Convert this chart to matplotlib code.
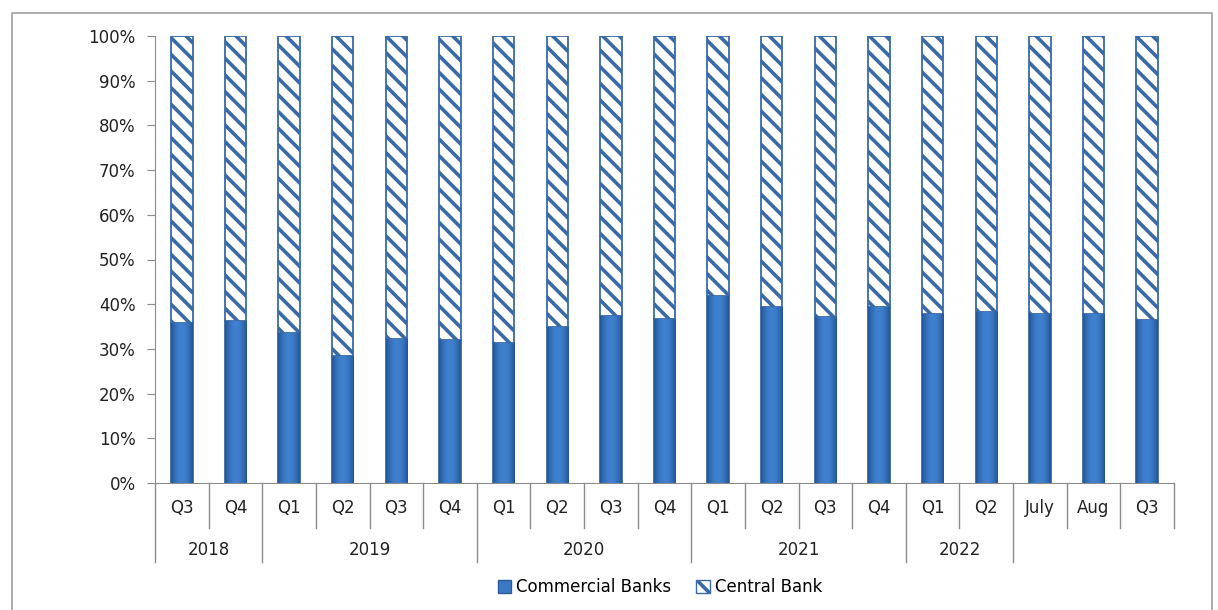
import matplotlib.pyplot as plt
import numpy as np
from matplotlib.patches import Patch
from matplotlib.lines import Line2D
from matplotlib.colors import LinearSegmentedColormap
import matplotlib.transforms as mtransforms

# data (shares in %)
periods = ["Q3", "Q4", "Q1", "Q2", "Q3", "Q4", "Q1", "Q2", "Q3", "Q4",
           "Q1", "Q2", "Q3", "Q4", "Q1", "Q2", "July", "Aug", "Q3"]
years = ["2018", "2019", "2020", "2021", "2022"]
year_span = [(0, 1), (2, 5), (6, 9), (10, 13), (14, 15)]
commercial = [35.7, 36.2, 33.6, 28.4, 32.2, 31.9, 31.4, 34.8, 37.4, 36.6,
              41.8, 39.4, 37.1, 39.3, 37.7, 38.3, 37.9, 37.7, 36.5]
central = [100 - v for v in commercial]

dark_blue = "#3B78C4"
edge_blue = "#2C5C98"
hatch_blue = "#4A7EBB"

plt.rcParams['hatch.linewidth'] = 2.6
plt.rcParams['hatch.color'] = hatch_blue

fig = plt.figure(figsize=(12.18, 6.10), dpi=100)
ax = fig.add_axes([155/1218, 1-483/610, (1174-155)/1218, (483-36)/610])

x = np.arange(len(periods))
w = 0.40
b1 = ax.bar(x, commercial, width=w, color=dark_blue, edgecolor=edge_blue, linewidth=1.2, zorder=2)
b2 = ax.bar(x, central, width=w, bottom=commercial, color="white", edgecolor="#3A6AA6",
            hatch="\\\\", linewidth=1.3, zorder=2)

# soft horizontal gradient on the solid bars
grad = np.linspace(-1, 1, 64)
grad = 1 - 0.35 * grad**2
grad = np.tile(grad, (2, 1))
cmap = LinearSegmentedColormap.from_list("bb", ["#1F4E8C", "#3F80CF"])
for bar in b1:
    bx, by = bar.get_x(), bar.get_y()
    im = ax.imshow(grad, cmap=cmap, vmin=0.6, vmax=1, aspect="auto",
                   extent=[bx, bx + bar.get_width(), by, by + bar.get_height()], zorder=2.1)
    im.set_clip_path(bar)

ax.set_xlim(-0.5, len(periods) - 0.5)
ax.set_ylim(0, 100)
ax.set_yticks(np.arange(0, 101, 10))
ax.set_yticklabels([f"{v}%" for v in range(0, 101, 10)], fontsize=12, color="#222222")
ax.set_xticks([])
for s in ["top", "right"]:
    ax.spines[s].set_visible(False)
ax.spines["left"].set_color("#8C8C8C")
ax.spines["bottom"].set_color("#8C8C8C")
ax.tick_params(axis="y", direction="out", length=6, color="#8C8C8C", pad=8)

trans = mtransforms.blended_transform_factory(ax.transData, ax.transAxes)
row1 = -(508 - 483) / 447
row2 = -(550 - 483) / 447
short = -(528 - 483) / 447
long_ = -(562 - 483) / 447

for i, p in enumerate(periods):
    ax.text(i, row1, p, transform=trans, ha="center", va="center", fontsize=12,
            color="#222222")
for yr, (a, b) in zip(years, year_span):
    ax.text((a + b) / 2, row2, yr, transform=trans, ha="center", va="center", fontsize=12,
            color="#222222")

year_edges = [-0.5] + [b + 0.5 for a, b in year_span]
for k in range(len(periods) + 1):
    xe = k - 0.5
    y0 = long_ if xe in year_edges else short
    ax.add_line(Line2D([xe, xe], [0, y0], transform=trans, color="#8C8C8C", lw=1, clip_on=False))

# outer frame
fig.add_artist(Line2D([12/1218, 12/1218, 1212/1218, 1212/1218], [0, 1-13/610, 1-13/610, 0],
                      transform=fig.transFigure, color="#A0A0A0", lw=1.2))

handles = [Patch(facecolor=dark_blue, edgecolor=edge_blue, label="Commercial Banks"),
           Patch(facecolor="white", edgecolor="#3A6AA6", hatch="\\\\", label="Central Bank")]
fig.legend(handles=handles, loc="center", bbox_to_anchor=(660/1218, 1-587/610), ncol=2,
           frameon=False, handlelength=0.8, handleheight=0.8, handletextpad=0.3, columnspacing=1.5,
           prop={"size": 12})

fig.savefig("out.png", dpi=100)
